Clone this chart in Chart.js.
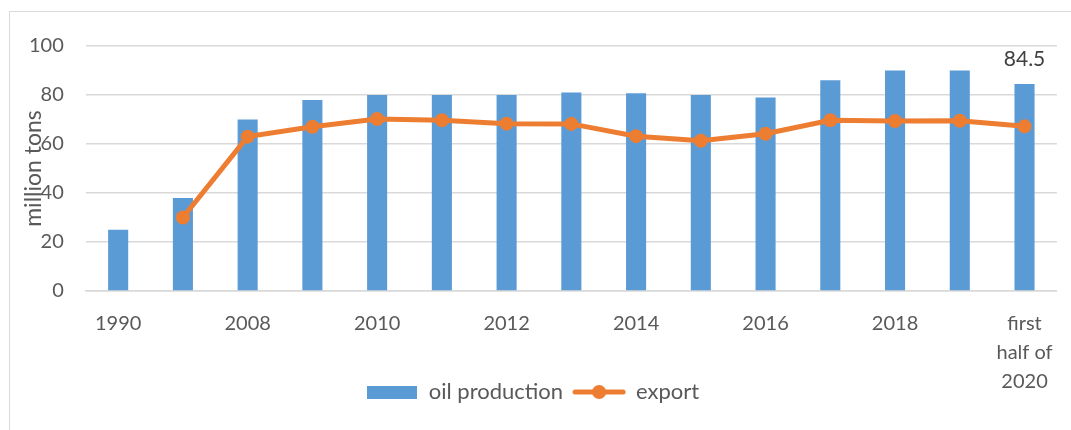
<!DOCTYPE html>
<html>
<head>
<meta charset="utf-8">
<script src="https://cdn.jsdelivr.net/npm/chart.js@4"></script>
<style>
  html, body { margin: 0; padding: 0; background: #fff; }
  #wrap { position: relative; width: 1071px; height: 430px; overflow: hidden; }
  #frame { position: absolute; left: 9px; top: 11px; width: 1200px; height: 600px; border: 1.5px solid #d9d9d9; pointer-events: none; }
  canvas { position: absolute; left: 0; top: 0; }
</style>
</head>
<body>
<div id="wrap">
  <div id="frame"></div>
  <canvas id="c" width="1071" height="430"></canvas>
</div>
<script>
// ---- data ----
const categories = ['1990', '2000', '2008', '2009', '2010', '2011', '2012', '2013', '2014', '2015', '2016', '2017', '2018', '2019', ['first', 'half of', '2020']];
const oilProduction = [25, 38, 70, 78, 80, 80, 80, 81, 80.7, 80, 79, 86, 90, 90, 84.5];
const exportValues = [null, 30, 63, 67, 70.2, 69.7, 68.3, 68.2, 63.2, 61.3, 64.2, 69.7, 69.4, 69.5, 67.2];
const yTicks = [0, 20, 40, 60, 80, 100];
const labelledValueIndex = [14];
const yTitle = 'million tons';

const BLUE = '#5B9BD5';
const ORANGE = '#ED7D31';
const TEXT = '#595959';
const FONT = 'Lato, "Open Sans", sans-serif';

// legend icons
function makeBarIcon() {
  const c = document.createElement('canvas');
  c.width = 50; c.height = 13;
  const x = c.getContext('2d');
  x.fillStyle = BLUE; x.fillRect(0, 0, 50, 13);
  return c;
}
function makeLineIcon() {
  const c = document.createElement('canvas');
  c.width = 54; c.height = 16;
  const x = c.getContext('2d');
  x.strokeStyle = ORANGE; x.lineWidth = 5; x.lineCap = 'round';
  x.beginPath(); x.moveTo(3, 8); x.lineTo(51, 8); x.stroke();
  x.fillStyle = ORANGE; x.beginPath(); x.arc(27, 8, 7, 0, Math.PI * 2); x.fill();
  return c;
}
const legendIcons = [makeBarIcon(), makeLineIcon()];

const extras = {
  id: 'extras',
  afterLayout(chart) {
    // let the legend row sit beside the multi-line last category label
    const lg = chart.legend;
    if (lg) {
      const target = chart.chartArea.bottom + 80;
      const dy = target - lg.top;
      lg.top += dy; lg.bottom += dy;
    }
  },
  afterDraw(chart) {
    const ctx = chart.ctx;
    const area = chart.chartArea;
    ctx.save();
    ctx.font = '23px ' + FONT;
    ctx.fillStyle = TEXT;
    ctx.textAlign = 'center';
    ctx.textBaseline = 'middle';
    ctx.translate(area.left - 52, (area.top + area.bottom) / 2);
    ctx.rotate(-Math.PI / 2);
    ctx.fillText(yTitle, 0, 0);
    ctx.restore();
    ctx.save();
    ctx.font = '21px ' + FONT;
    ctx.fillStyle = '#404040';
    ctx.textAlign = 'center';
    ctx.textBaseline = 'middle';
    const meta = chart.getDatasetMeta(1);
    labelledValueIndex.forEach(i => {
      const el = meta.data[i];
      ctx.fillText(String(oilProduction[i]), el.x, el.y - 25);
    });
    ctx.restore();
  }
};

new Chart(document.getElementById('c'), {
  data: {
    labels: categories,
    datasets: [
      {
        type: 'line',
        label: 'export',
        data: exportValues,
        borderColor: ORANGE,
        backgroundColor: ORANGE,
        borderWidth: 5,
        pointRadius: 7,
        pointHoverRadius: 7,
        pointBackgroundColor: ORANGE,
        pointBorderWidth: 0,
        tension: 0,
        order: 0
      },
      {
        type: 'bar',
        label: 'oil production',
        data: oilProduction,
        backgroundColor: BLUE,
        borderWidth: 0,
        barPercentage: 0.31,
        categoryPercentage: 1,
        order: 1
      }
    ]
  },
  options: {
    responsive: false,
    animation: false,
    layout: { padding: { left: 7, right: 13, top: 46, bottom: -26 } },
    plugins: {
      legend: {
        position: 'bottom',
        reverse: true,
        labels: {
          usePointStyle: true,
          pointStyleWidth: 52,
          color: TEXT,
          font: { family: FONT, size: 22 },
          padding: 10,
          generateLabels(chart) {
            const items = Chart.defaults.plugins.legend.labels.generateLabels(chart);
            items.forEach(it => { it.pointStyle = legendIcons[it.datasetIndex === 1 ? 0 : 1]; });
            return items;
          }
        }
      },
      tooltip: { enabled: false }
    },
    scales: {
      x: {
        grid: { display: false, drawTicks: false },
        border: { display: true, color: '#d9d9d9', width: 1.5 },
        ticks: {
          autoSkip: false,
          maxRotation: 0,
          color: TEXT,
          padding: 18,
          font: { family: FONT, size: 20, lineHeight: 1.45 },
          callback(val, i) { return i % 2 === 0 ? this.getLabelForValue(val) : ''; }
        }
      },
      y: {
        min: 0,
        max: 100,
        afterBuildTicks(scale) { scale.ticks = yTicks.map(v => ({ value: v })); },
        grid: { color: '#d9d9d9', lineWidth: 1.5, drawTicks: false },
        border: { display: false },
        ticks: {
          color: TEXT,
          padding: 22,
          font: { family: FONT, size: 20 }
        }
      }
    }
  },
  plugins: [extras]
});
</script>
</body>
</html>
